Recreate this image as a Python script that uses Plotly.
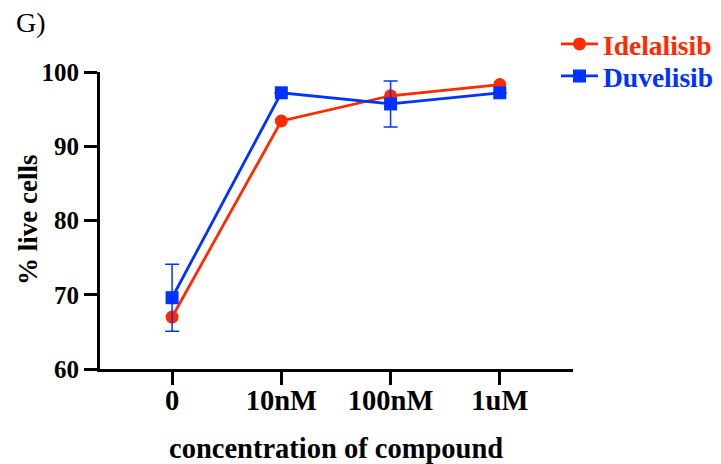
import plotly.graph_objects as go

categories = ["0", "10nM", "100nM", "1uM"]
idelalisib = [67.0, 93.4, 96.8, 98.3]
duvelisib = [69.6, 97.2, 95.7, 97.2]
duvelisib_err = [4.5, 0.0, 3.1, 0.0]
y_ticks = [60, 70, 80, 90, 100]

RED = "#FF2A00"
BLUE = "#0033FF"
FONT = "Liberation Serif"
OFF = 8  # page body margin
W, H = 721 - OFF, 464 - OFF
PL, PT, PW, PH = 100 - OFF, 72 - OFF, 473, 297


def px(x):
    return (x - OFF - PL) / PW


def py(y):
    return (PT + PH - (y - OFF)) / PH


fig = go.Figure()
fig.add_trace(go.Scatter(
    x=categories, y=idelalisib, mode="lines+markers",
    name=f"<b><span style='color:{RED}'>Idelalisib</span></b>",
    line=dict(color=RED, width=2.8),
    marker=dict(symbol="circle", size=13, color=RED),
    legend="legend",
))
fig.add_trace(go.Scatter(
    x=categories, y=duvelisib, mode="lines+markers",
    name=f"<b><span style='color:{BLUE}'>Duvelisib</span></b>",
    line=dict(color=BLUE, width=2.8),
    marker=dict(symbol="square", size=13, color=BLUE),
    error_y=dict(type="data", array=duvelisib_err, visible=True,
                 color=BLUE, thickness=1.5, width=7),
    legend="legend2",
))

leg_common = dict(xref="container", yref="container", xanchor="left",
                  yanchor="middle", font=dict(family=FONT, size=27.5),
                  bgcolor="rgba(0,0,0,0)", itemwidth=37, borderwidth=0)

fig.update_layout(
    width=W, height=H,
    margin=dict(l=PL, r=W - PL - PW, t=PT, b=H - PT - PH, autoexpand=False),
    paper_bgcolor="white", plot_bgcolor="white",
    font=dict(family=FONT, color="black"),
    showlegend=True,
    legend=dict(x=(556 - OFF) / W, y=1 - (44 - OFF) / H, **leg_common),
    legend2=dict(x=(556 - OFF) / W, y=1 - (76 - OFF) / H, **leg_common),
)

fig.add_annotation(text="G)", xref="paper", yref="paper",
                   x=px(31), y=py(22),
                   xanchor="center", yanchor="middle", showarrow=False,
                   font=dict(family=FONT, size=28, color="black"))
fig.add_annotation(text="<b>concentration of compound</b>", xref="paper", yref="paper",
                   x=px(336), y=py(448),
                   xanchor="center", yanchor="middle", showarrow=False,
                   font=dict(family=FONT, size=28.5, color="black"))
fig.add_annotation(text="<b>% live cells</b>", xref="paper", yref="paper",
                   x=px(28), y=py(220), textangle=-90,
                   xanchor="center", yanchor="middle", showarrow=False,
                   font=dict(family=FONT, size=27, color="black"))

fig.update_xaxes(
    type="category", categoryorder="array", categoryarray=categories,
    tickvals=categories, ticktext=[f"<b>{c}</b>" for c in categories],
    range=[-0.66, 3.67], showline=True, linecolor="black", linewidth=3,
    ticks="outside", ticklen=13, tickwidth=3, tickcolor="black",
    showgrid=False, zeroline=False, automargin=False,
    tickfont=dict(family=FONT, size=28.5, color="black"),
    ticklabelstandoff=-9,
)
fig.update_yaxes(
    range=[60, 100], tickvals=y_ticks, ticktext=[f"<b>{v}</b>" for v in y_ticks],
    showline=True, linecolor="black", linewidth=3,
    ticks="outside", ticklen=13, tickwidth=3, tickcolor="black",
    showgrid=False, zeroline=False, automargin=False,
    tickfont=dict(family=FONT, size=25, color="black"),
    ticklabelstandoff=0,
)

fig.write_html("out.html")
